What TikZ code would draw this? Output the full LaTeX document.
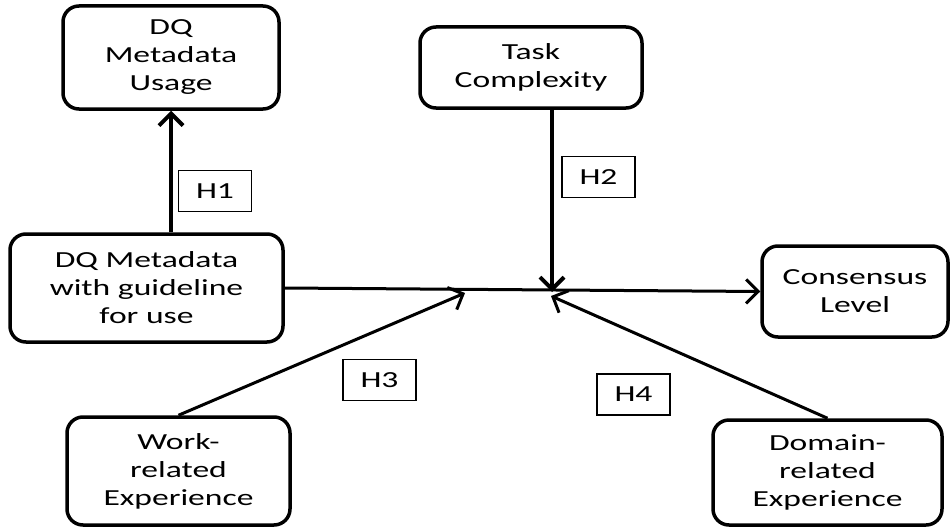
\documentclass[tikz,border=0pt]{standalone}
\usepackage{fontspec}
\setmainfont{Carlito}[FakeStretch=1.46]
\usetikzlibrary{arrows.meta}

\begin{document}
\begin{tikzpicture}[x=1pt, y=-1pt,
	construct/.style={draw, line width=3.5pt, rounded corners=16pt, align=center, inner sep=0pt, font=\fontsize{23}{28}\selectfont},
	hyp/.style={draw, line width=1.2pt, minimum width=73pt, minimum height=41pt, inner sep=0pt, font=\fontsize{23}{28}\selectfont},
	link/.style={-{Straight Barb[length=12pt,width=24pt]}, line width=3pt}]
	\useasboundingbox (0,0) rectangle (952,527);
	
	\node[construct, minimum width=216pt, minimum height=103pt] (usage) at (171,57.5) {DQ\\Metadata\\Usage};
	\node[construct, minimum width=222pt, minimum height=81pt] (task) at (531,67.5) {Task\\Complexity};
	\node[construct, minimum width=273pt, minimum height=108pt] (guide) at (146.5,288) {DQ Metadata\\with guideline\\for use};
	\node[construct, minimum width=186pt, minimum height=91pt] (cons) at (855,291.5) {Consensus\\Level};
	\node[construct, minimum width=223pt, minimum height=108pt] (work) at (178.5,471) {Work-\\related\\Experience};
	\node[construct, minimum width=229pt, minimum height=105pt] (domain) at (827.5,472.5) {Domain-\\related\\Experience};
	
	\coordinate (m2) at (552,292);
	\coordinate (m3) at (465,293);
	\coordinate (m4) at (551,296);
	
	\draw[link, line width=4pt] (usage.south |- guide.north) -- (usage.south);
	\draw[link, line width=4pt] (task.south -| m2) -- (m2);
	\draw[link] (guide.east) -- (cons.west);
	\draw[link] (work.north) -- (m3);
	\draw[link] (domain.north) -- (m4);
	
	\node[hyp] (h1) at (215,191) {H1};
	\node[hyp] (h2) at (598.5,177) {H2};
	\node[hyp] (h3) at (379.5,380) {H3};
	\node[hyp] (h4) at (633.5,394.5) {H4};
	
\end{tikzpicture}
\end{document}
